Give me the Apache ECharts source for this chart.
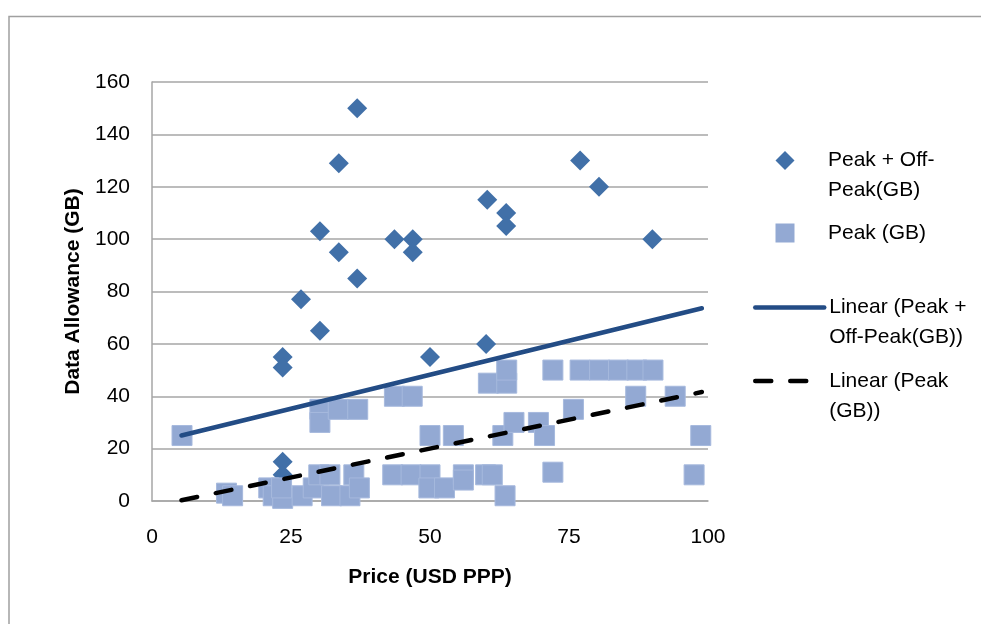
<!DOCTYPE html>
<html>
<head>
<meta charset="utf-8">
<script src="https://cdn.jsdelivr.net/npm/echarts@6/dist/echarts.min.js"></script>
<style>
  html, body { margin: 0; padding: 0; background: #ffffff; }
  #chart { width: 981px; height: 624px; }
</style>
</head>
<body>
<div id="chart"></div>
<script>
// Price (USD PPP) vs data allowance (GB) for broadband plans
const peakOffPeakPrice = [36.9, 33.6, 30.2, 33.6, 36.9, 26.8, 30.2, 23.5, 23.5, 23.5, 23.5,
  43.6, 46.9, 46.9, 50.0, 60.3, 63.7, 63.7, 60.1, 77.0, 80.4, 90.0];
const peakOffPeakGB = [150, 129, 103, 95, 85, 77, 65, 55, 51, 15, 10,
  100, 100, 95, 55, 115, 110, 105, 60, 130, 120, 100];

const peakPrice = [5.4, 13.4, 14.5, 21.0, 21.8, 23.5, 23.3, 27.0, 29.0, 30.0, 32.0, 32.3,
  35.6, 36.3, 37.3, 30.2, 30.2, 33.5, 37.0, 43.6, 46.8, 43.3, 46.6, 50.0, 49.8, 52.6,
  50.0, 54.2, 56.0, 56.0, 60.0, 61.2, 63.5, 60.5, 63.8, 63.8, 63.1, 65.1, 69.5, 70.6,
  72.1, 72.1, 75.8, 77.0, 80.5, 83.9, 87.2, 90.1, 87.0, 94.1, 98.7, 97.5];
const peakGB = [25, 3, 2, 5, 2, 1, 5, 2, 5, 10, 10, 2,
  2, 10, 5, 35, 30, 35, 35, 40, 40, 10, 10, 10, 5, 5,
  25, 25, 10, 8, 10, 10, 2, 45, 45, 50, 25, 30, 30, 25,
  11, 50, 35, 50, 50, 50, 50, 50, 40, 40, 25, 10];

// Linear trend lines (end points)
const trendAllX = [5.3, 98.9];
const trendAllY = [25.0, 73.6];
const trendPeakX = [5.3, 98.9];
const trendPeakY = [0.3, 41.6];

const xTicks = { min: 0, max: 100, step: 25 };
const yTicks = { min: 0, max: 160, step: 20 };

const seriesNames = ['Peak + Off-Peak(GB)', 'Peak (GB)', 'Linear (Peak + Off-Peak(GB))', 'Linear (Peak (GB))'];
const legendLines = [['Peak + Off-', 'Peak(GB)'], ['Peak (GB)'], ['Linear (Peak +', 'Off-Peak(GB))'], ['Linear (Peak', '(GB))']];

const zip = (xs, ys) => xs.map((x, i) => [x, ys[i]]);

const FONT = 'Liberation Sans, Arial, sans-serif';
const GRID_GRAY = '#a6a6a6';
const TREND_BLUE = '#234c85';
const DASH = [16, 19];

// Legend label: the first line sits level with the icon, so a blank line
// is put above multi-line labels to keep the block centred on the icon.
function legendText(i, indent) {
  const lines = legendLines[i].map(s => (indent ? '{s|}' : '') + '{t|' + s + '}');
  if (lines.length > 1) lines.unshift('{t| }');
  return lines.join('\n');
}

function legendFor(i, left, top, itemWidth, itemHeight, indent, extra) {
  const item = Object.assign({ name: seriesNames[i] }, extra || {});
  return {
    left: left,
    top: top,
    padding: 0,
    orient: 'vertical',
    selectedMode: false,
    itemWidth: itemWidth,
    itemHeight: itemHeight,
    data: [item],
    formatter: function () { return legendText(i, indent); },
    textStyle: {
      fontFamily: FONT, fontSize: 21, color: '#000000', lineHeight: 30,
      rich: {
        s: { width: indent, fontSize: 21, lineHeight: 30 },
        t: { fontFamily: FONT, fontSize: 21, color: '#000000', lineHeight: 30 }
      }
    }
  };
}

const chart = echarts.init(document.getElementById('chart'), null, { renderer: 'canvas' });
chart.setOption({
  animation: false,
  backgroundColor: '#ffffff',
  graphic: [{
    type: 'rect',
    shape: { x: 9, y: 16.5, width: 1100, height: 800 },
    style: { fill: 'none', stroke: '#a0a0a0', lineWidth: 1.5 },
    silent: true, z: -10
  }],
  grid: { left: 152, right: 273, top: 82, bottom: 123, containLabel: false },
  legend: [
    legendFor(0, 775.5, 115.5, 19, 19, 28.5, { icon: 'diamond', itemStyle: { borderWidth: 0 } }),
    legendFor(1, 775.5, 218, 19, 19, 28.5, { icon: 'rect', itemStyle: { borderWidth: 0 } }),
    legendFor(2, 753, 262.5, 69, 20, 0, {
      itemStyle: { opacity: 0 },
      lineStyle: { color: TREND_BLUE, width: 4.5, cap: 'round', type: 'solid' }
    }),
    legendFor(3, 753, 336, 69, 20, 0, {
      itemStyle: { opacity: 0 },
      lineStyle: { color: '#000000', width: 4.5, cap: 'round', type: DASH }
    })
  ],
  xAxis: {
    type: 'value',
    min: xTicks.min, max: xTicks.max, interval: xTicks.step,
    name: 'Price (USD PPP)',
    nameLocation: 'middle',
    nameGap: 66,
    nameTextStyle: { fontFamily: FONT, fontSize: 21, fontWeight: 'bold', color: '#000000' },
    axisLine: { show: true, lineStyle: { color: GRID_GRAY, width: 1.5 } },
    axisTick: { show: false },
    axisLabel: { margin: 26, fontFamily: FONT, fontSize: 21, color: '#000000' },
    splitLine: { show: false }
  },
  yAxis: {
    type: 'value',
    min: yTicks.min, max: yTicks.max, interval: yTicks.step,
    name: 'Data Allowance (GB)',
    nameLocation: 'middle',
    nameGap: 68,
    nameTextStyle: { fontFamily: FONT, fontSize: 21, fontWeight: 'bold', color: '#000000' },
    axisLine: { show: true, lineStyle: { color: GRID_GRAY, width: 1.5 } },
    axisTick: { show: false },
    axisLabel: { margin: 22, fontFamily: FONT, fontSize: 21, color: '#000000' },
    splitLine: { show: true, lineStyle: { color: GRID_GRAY, width: 1.5 } }
  },
  series: [
    {
      name: seriesNames[0],
      type: 'scatter',
      symbol: 'diamond',
      symbolSize: 20,
      data: zip(peakOffPeakPrice, peakOffPeakGB),
      itemStyle: { color: '#4170a8', opacity: 1 },
      z: 2
    },
    {
      name: seriesNames[1],
      type: 'scatter',
      symbol: 'rect',
      symbolSize: 20,
      data: zip(peakPrice, peakGB),
      itemStyle: { color: '#93a9d3', opacity: 1, borderColor: '#a6b9dd', borderWidth: 1 },
      z: 3
    },
    {
      name: seriesNames[2],
      type: 'line',
      symbol: 'none',
      data: zip(trendAllX, trendAllY),
      lineStyle: { color: TREND_BLUE, width: 4.5, cap: 'round' },
      itemStyle: { color: TREND_BLUE },
      z: 4
    },
    {
      name: seriesNames[3],
      type: 'line',
      symbol: 'none',
      data: zip(trendPeakX, trendPeakY),
      lineStyle: { color: '#000000', width: 4.5, type: DASH, cap: 'round' },
      itemStyle: { color: '#000000' },
      z: 4
    }
  ]
});
</script>
</body>
</html>
